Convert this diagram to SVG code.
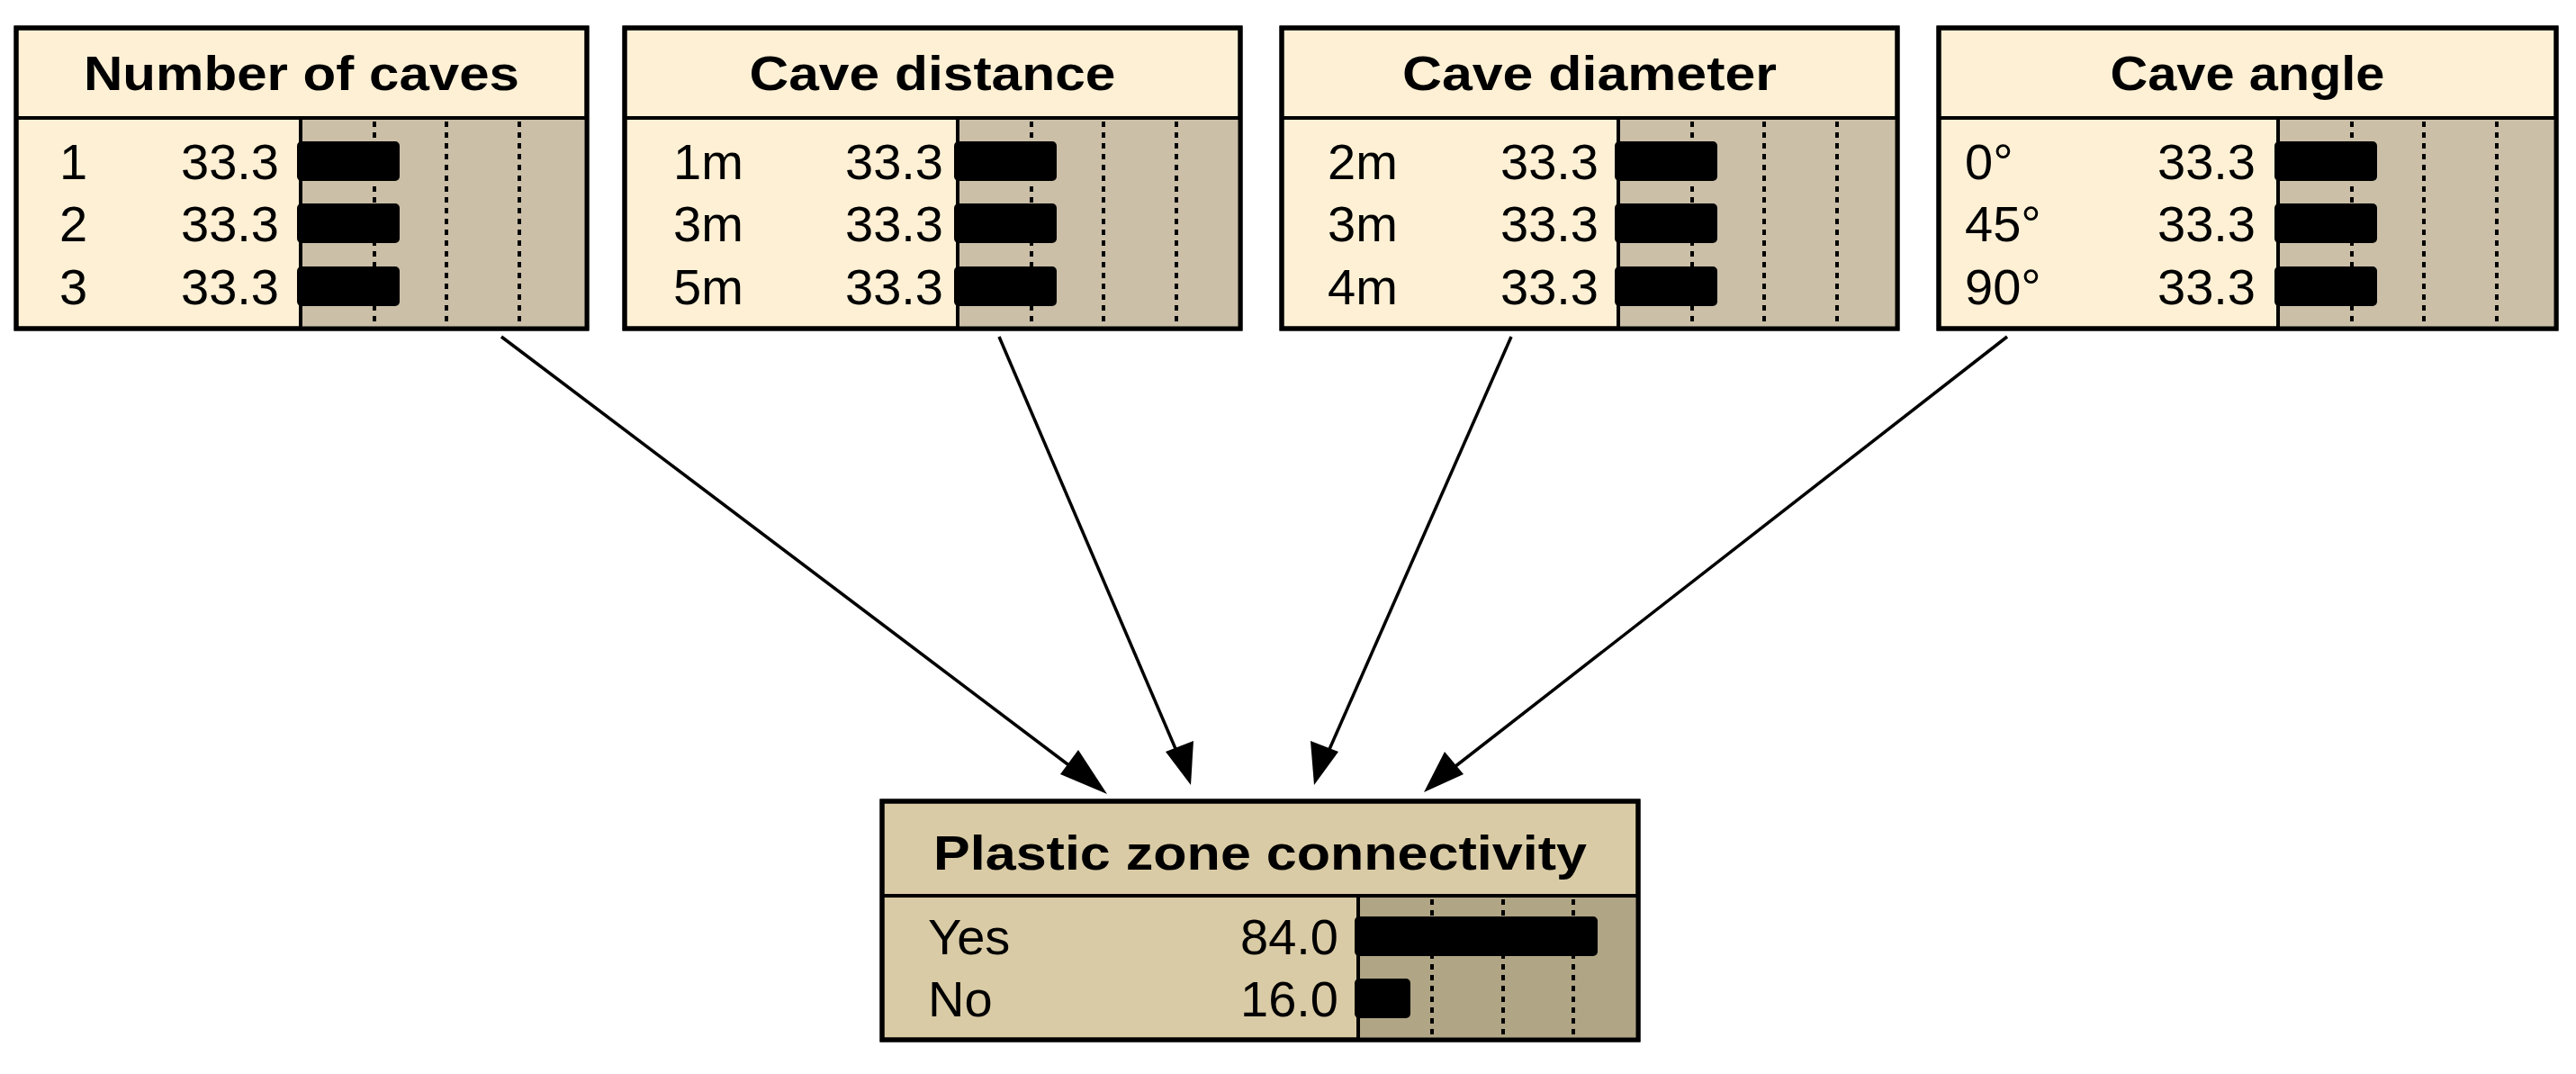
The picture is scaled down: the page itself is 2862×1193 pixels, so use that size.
<svg xmlns="http://www.w3.org/2000/svg" width="2862" height="1193" viewBox="0 0 2862 1193">
<style>
.box{fill:#FDF0D5;stroke:#000;stroke-width:5}
.chart{fill:#CBBFA8}
.box2{fill:#D9CBA5;stroke:#000;stroke-width:5}
.chart2{fill:#B0A585}
.t{font-family:"Liberation Sans",Arial,sans-serif;font-weight:bold;font-size:54px;text-anchor:middle}
.r{font-family:"Liberation Sans",Arial,sans-serif;font-size:56px}
.v{font-family:"Liberation Sans",Arial,sans-serif;font-size:56px;text-anchor:end}
.dot{stroke:#000;stroke-width:4;stroke-dasharray:6 6}
.bar{fill:#000}
.line{stroke:#000;stroke-width:4}
.conn{stroke:#000;stroke-width:3.5;fill:none;marker-end:url(#ah)}
</style>
<defs>
<marker id="ah" markerWidth="12" markerHeight="10" refX="11" refY="5" orient="auto" markerUnits="userSpaceOnUse" viewBox="0 0 12 10">
<path d="M0,0 L12,5 L0,10 Z" fill="#000"/>
</marker>
</defs>
<rect width="2862" height="1193" fill="#fff"/>
<g id="connectors">
<line class="conn" x1="557" y1="374" x2="1214" y2="870" style="marker-end:none"/>
<path d="M1230,882 L1178,860 L1198,833 Z"/>
<line class="conn" x1="1110" y1="374" x2="1316" y2="855" style="marker-end:none"/>
<path d="M1323,872 L1295,835 L1326,823 Z" transform=""/>
<line class="conn" x1="1679" y1="374" x2="1467" y2="855" style="marker-end:none"/>
<path d="M1460,872 L1456,823 L1487,835 Z"/>
<line class="conn" x1="2230" y1="374" x2="1598" y2="866" style="marker-end:none"/>
<path d="M1582,880 L1605,835 L1626,860 Z"/>
</g>
<g id="node-number-of-caves">
<rect class="box" x="18" y="31" width="634" height="334"/>
<rect class="chart" x="334" y="131" width="318" height="234"/>
<rect x="18" y="31" width="634" height="334" fill="none" stroke="#000" stroke-width="5"/>
<line class="line" x1="18" y1="131" x2="652" y2="131"/>
<line class="line" x1="334" y1="131" x2="334" y2="365"/>
<line class="dot" x1="416" y1="135" x2="416" y2="362"/>
<line class="dot" x1="496" y1="135" x2="496" y2="362"/>
<line class="dot" x1="577" y1="135" x2="577" y2="362"/>
<text class="t" x="335" y="100" textLength="484" lengthAdjust="spacingAndGlyphs">Number of caves</text>
<text class="r" x="66" y="199">1</text><text class="v" x="310" y="199">33.3</text><rect class="bar" x="330" y="157" width="114" height="44" rx="5"/>
<text class="r" x="66" y="268">2</text><text class="v" x="310" y="268">33.3</text><rect class="bar" x="330" y="226" width="114" height="44" rx="5"/>
<text class="r" x="66" y="338">3</text><text class="v" x="310" y="338">33.3</text><rect class="bar" x="330" y="296" width="114" height="44" rx="5"/>
</g>
<g id="node-cave-distance">
<rect class="box" x="694" y="31" width="684" height="334"/>
<rect class="chart" x="1064" y="131" width="314" height="234"/>
<rect x="694" y="31" width="684" height="334" fill="none" stroke="#000" stroke-width="5"/>
<line class="line" x1="694" y1="131" x2="1378" y2="131"/>
<line class="line" x1="1064" y1="131" x2="1064" y2="365"/>
<line class="dot" x1="1146" y1="135" x2="1146" y2="362"/>
<line class="dot" x1="1226" y1="135" x2="1226" y2="362"/>
<line class="dot" x1="1307" y1="135" x2="1307" y2="362"/>
<text class="t" x="1036" y="100" textLength="407" lengthAdjust="spacingAndGlyphs">Cave distance</text>
<text class="r" x="748" y="199">1m</text><text class="v" x="1048" y="199">33.3</text><rect class="bar" x="1060" y="157" width="114" height="44" rx="5"/>
<text class="r" x="748" y="268">3m</text><text class="v" x="1048" y="268">33.3</text><rect class="bar" x="1060" y="226" width="114" height="44" rx="5"/>
<text class="r" x="748" y="338">5m</text><text class="v" x="1048" y="338">33.3</text><rect class="bar" x="1060" y="296" width="114" height="44" rx="5"/>
</g>
<g id="node-cave-diameter">
<rect class="box" x="1424" y="31" width="684" height="334"/>
<rect class="chart" x="1798" y="131" width="310" height="234"/>
<rect x="1424" y="31" width="684" height="334" fill="none" stroke="#000" stroke-width="5"/>
<line class="line" x1="1424" y1="131" x2="2108" y2="131"/>
<line class="line" x1="1798" y1="131" x2="1798" y2="365"/>
<line class="dot" x1="1880" y1="135" x2="1880" y2="362"/>
<line class="dot" x1="1960" y1="135" x2="1960" y2="362"/>
<line class="dot" x1="2041" y1="135" x2="2041" y2="362"/>
<text class="t" x="1766" y="100" textLength="416" lengthAdjust="spacingAndGlyphs">Cave diameter</text>
<text class="r" x="1475" y="199">2m</text><text class="v" x="1776" y="199">33.3</text><rect class="bar" x="1794" y="157" width="114" height="44" rx="5"/>
<text class="r" x="1475" y="268">3m</text><text class="v" x="1776" y="268">33.3</text><rect class="bar" x="1794" y="226" width="114" height="44" rx="5"/>
<text class="r" x="1475" y="338">4m</text><text class="v" x="1776" y="338">33.3</text><rect class="bar" x="1794" y="296" width="114" height="44" rx="5"/>
</g>
<g id="node-cave-angle">
<rect class="box" x="2154" y="31" width="686" height="334"/>
<rect class="chart" x="2531" y="131" width="309" height="234"/>
<rect x="2154" y="31" width="686" height="334" fill="none" stroke="#000" stroke-width="5"/>
<line class="line" x1="2154" y1="131" x2="2840" y2="131"/>
<line class="line" x1="2531" y1="131" x2="2531" y2="365"/>
<line class="dot" x1="2613" y1="135" x2="2613" y2="362"/>
<line class="dot" x1="2693" y1="135" x2="2693" y2="362"/>
<line class="dot" x1="2774" y1="135" x2="2774" y2="362"/>
<text class="t" x="2497" y="100" textLength="305" lengthAdjust="spacingAndGlyphs">Cave angle</text>
<text class="r" x="2183" y="199">0°</text><text class="v" x="2506" y="199">33.3</text><rect class="bar" x="2527" y="157" width="114" height="44" rx="5"/>
<text class="r" x="2183" y="268">45°</text><text class="v" x="2506" y="268">33.3</text><rect class="bar" x="2527" y="226" width="114" height="44" rx="5"/>
<text class="r" x="2183" y="338">90°</text><text class="v" x="2506" y="338">33.3</text><rect class="bar" x="2527" y="296" width="114" height="44" rx="5"/>
</g>
<g id="node-plastic-zone-connectivity">
<rect class="box2" x="980" y="890" width="840" height="265"/>
<rect class="chart2" x="1509" y="995" width="311" height="160"/>
<rect x="980" y="890" width="840" height="265" fill="none" stroke="#000" stroke-width="5"/>
<line class="line" x1="980" y1="995" x2="1820" y2="995"/>
<line class="line" x1="1509" y1="995" x2="1509" y2="1155"/>
<line class="dot" x1="1591" y1="999" x2="1591" y2="1152"/>
<line class="dot" x1="1670" y1="999" x2="1670" y2="1152"/>
<line class="dot" x1="1748" y1="999" x2="1748" y2="1152"/>
<text class="t" x="1400" y="966" textLength="726" lengthAdjust="spacingAndGlyphs">Plastic zone connectivity</text>
<text class="r" x="1031" y="1060">Yes</text><text class="v" x="1487" y="1060">84.0</text><rect class="bar" x="1505" y="1018" width="270" height="44" rx="5"/>
<text class="r" x="1031" y="1129">No</text><text class="v" x="1487" y="1129">16.0</text><rect class="bar" x="1505" y="1087" width="62" height="44" rx="5"/>
</g>
</svg>
